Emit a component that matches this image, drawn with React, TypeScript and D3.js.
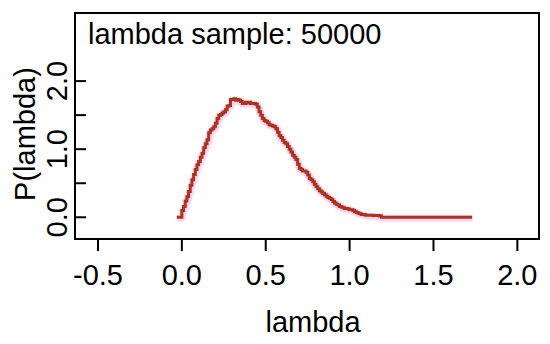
import React from "react";
import * as d3 from "d3";

const lambdaValues = [
  -0.03, -0.01, 0.0, 0.01, 0.02, 0.03, 0.04, 0.05, 0.06, 0.07, 0.08, 0.09,
  0.1, 0.11, 0.12, 0.13, 0.14, 0.15, 0.16, 0.17, 0.18, 0.19, 0.2, 0.21, 0.22,
  0.23, 0.24, 0.25, 0.26, 0.27, 0.28, 0.29, 0.3, 0.31, 0.32, 0.33, 0.34, 0.35,
  0.36, 0.37, 0.38, 0.39, 0.4, 0.41, 0.42, 0.43, 0.44, 0.45, 0.46, 0.47, 0.48,
  0.49, 0.5, 0.51, 0.52, 0.53, 0.54, 0.55, 0.56, 0.57, 0.58, 0.59, 0.6, 0.61,
  0.62, 0.63, 0.64, 0.65, 0.66, 0.67, 0.68, 0.69, 0.7, 0.71, 0.72, 0.73, 0.74,
  0.75, 0.76, 0.77, 0.78, 0.79, 0.8, 0.81, 0.82, 0.83, 0.84, 0.85, 0.86, 0.87,
  0.88, 0.89, 0.9, 0.91, 0.92, 0.93, 0.94, 0.95, 0.96, 0.97, 0.98, 0.99, 1.0,
  1.01, 1.02, 1.03, 1.04, 1.05, 1.06, 1.07, 1.08, 1.09, 1.1, 1.12, 1.14, 1.16,
  1.18, 1.19, 1.73,
];
const densityValues = [
  0, 0, 0.1, 0.16, 0.24, 0.3, 0.38, 0.47, 0.55, 0.63, 0.7, 0.77, 0.82, 0.88,
  0.94, 1.02, 1.08, 1.14, 1.24, 1.28, 1.3, 1.33, 1.38, 1.45, 1.5, 1.51, 1.53,
  1.55, 1.58, 1.63, 1.64, 1.73, 1.73, 1.74, 1.72, 1.73, 1.72, 1.7, 1.67, 1.67,
  1.69, 1.68, 1.69, 1.67, 1.67, 1.67, 1.66, 1.62, 1.55, 1.5, 1.45, 1.42, 1.41,
  1.39, 1.36, 1.35, 1.34, 1.33, 1.3, 1.25, 1.2, 1.17, 1.13, 1.1, 1.08, 1.04,
  1.0, 0.96, 0.91, 0.88, 0.85, 0.78, 0.72, 0.7, 0.68, 0.68, 0.66, 0.62, 0.57,
  0.55, 0.52, 0.48, 0.45, 0.42, 0.39, 0.37, 0.35, 0.33, 0.31, 0.29, 0.28, 0.26,
  0.23, 0.21, 0.19, 0.18, 0.16, 0.15, 0.14, 0.13, 0.13, 0.12, 0.11, 0.11, 0.1,
  0.08, 0.07, 0.06, 0.05, 0.04, 0.04, 0.035, 0.03, 0.03, 0.025, 0.025, 0.02, 0,
  0,
];
const xTicks = [-0.5, 0.0, 0.5, 1.0, 1.5, 2.0];
const xTickLabels = ["-0.5", "0.0", "0.5", "1.0", "1.5", "2.0"];
const yTicks = [0, 0.5, 1.0, 1.5, 2.0];
const yTickValues = [0, 1.0, 2.0];
const yTickLabels = ["0.0", "1.0", "2.0"];
const titleText = "lambda sample: 50000";
const xLabel = "lambda";
const yLabel = "P(lambda)";

const W = 550;
const H = 344;
const box = { left: 75, right: 539, top: 13, bottom: 239 };
const FONT = "'Liberation Sans', Arial, sans-serif";

export default function App() {
  const x = d3.scaleLinear().domain([-0.637, 2.129]).range([box.left, box.right]);
  const y = d3.scaleLinear().domain([-0.319, 3.0]).range([box.bottom, box.top]);
  const data = lambdaValues.map((l, i) => ({ l, v: densityValues[i] }));
  const line = d3
    .line<{ l: number; v: number }>()
    .x((d) => x(d.l))
    .y((d) => y(d.v))
    .curve(d3.curveStepAfter);
  const path = line(data) || "";

  return (
    <svg
      width={W}
      height={H}
      style={{ position: "fixed", left: 0, top: 0, background: "#fff" }}
      fontFamily={FONT}
    >
      <rect x={0} y={0} width={W} height={H} fill="#fff" />
      <path d={path} fill="none" stroke="#fbd6f6" strokeWidth={7} transform="translate(0.5,1)" strokeLinejoin="round" />
      <path d={path} fill="none" stroke="#c8241a" strokeWidth={3} />
      <path d={path} fill="none" stroke="#75561a" strokeWidth={1} />
      <rect
        x={box.left}
        y={box.top}
        width={box.right - box.left}
        height={box.bottom - box.top}
        fill="none"
        stroke="#000"
        strokeWidth={2}
      />
      {xTicks.map((t, i) => (
        <g key={"x" + t}>
          <line x1={x(t)} x2={x(t)} y1={box.bottom} y2={box.bottom + 12} stroke="#000" strokeWidth={2} />
          <text x={x(t)} y={285} fontSize={29} textAnchor="middle" fill="#000">
            {xTickLabels[i]}
          </text>
        </g>
      ))}
      {yTicks.map((t) => (
        <line key={"y" + t} x1={box.left} x2={box.left + 11} y1={y(t)} y2={y(t)} stroke="#000" strokeWidth={2} />
      ))}
      {yTickValues.map((t, i) => (
        <text
          key={"yl" + t}
          transform={`translate(67,${y(t)}) rotate(-90)`}
          fontSize={29}
          textAnchor="middle"
          fill="#000"
        >
          {yTickLabels[i]}
        </text>
      ))}
      <text x={88} y={43.5} fontSize={29} fill="#000">
        {titleText}
      </text>
      <text x={313} y={332} fontSize={29} textAnchor="middle" fill="#000">
        {xLabel}
      </text>
      <text transform={`translate(35,134) rotate(-90)`} fontSize={29} textAnchor="middle" fill="#000">
        {yLabel}
      </text>
    </svg>
  );
}
